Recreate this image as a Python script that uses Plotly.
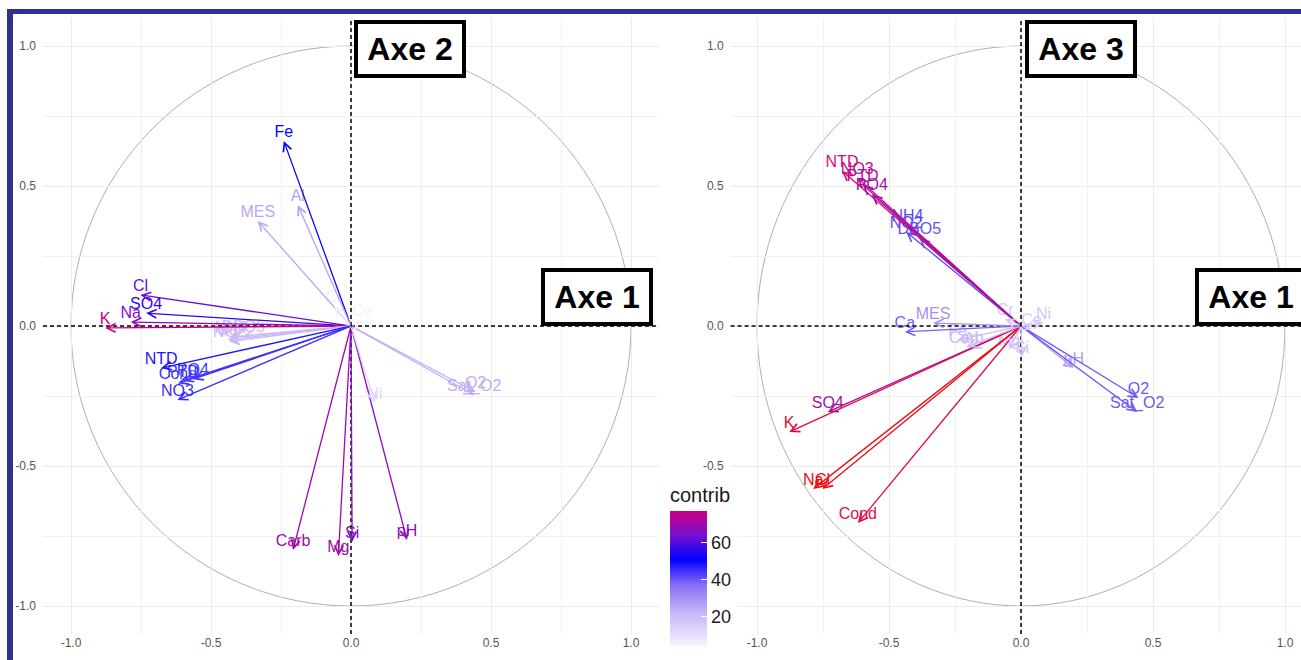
import plotly.graph_objects as go
from plotly.colors import sample_colorscale

# ---------------- data ----------------
variables = ["Fe", "Al", "MES", "Cl", "SO4", "Na", "K", "NH4", "NO2", "DBO5", "Ca",
             "NTD", "PTD", "PO4", "Cond", "NO3", "Carb", "Mg", "Si", "pH", "Ni",
             "Sat_O2", "O2", "Cr", "Ce"]
dim1 = [-0.240, -0.190, -0.333, -0.752, -0.732, -0.787, -0.878, -0.430, -0.435, -0.385, -0.440,
        -0.678, -0.600, -0.565, -0.618, -0.620, -0.207, -0.045, 0.004, 0.200, 0.085,
        0.440, 0.445, -0.060, 0.040]
dim2 = [0.661, 0.432, 0.375, 0.111, 0.046, 0.014, -0.007, -0.040, -0.055, -0.035, -0.048,
        -0.150, -0.196, -0.190, -0.205, -0.264, -0.800, -0.821, -0.771, -0.764, -0.275,
        -0.246, -0.236, 0.070, 0.020]
dim3 = [-0.050, -0.080, 0.011, -0.582, -0.307, -0.582, -0.379, 0.361, 0.336, 0.314, -0.021,
        0.554, 0.505, 0.470, -0.704, 0.530, -0.075, -0.085, -0.110, -0.150, 0.012,
        -0.307, -0.257, 0.025, -0.012]
contrib_12 = [50, 26, 25, 62, 56, 66, 77, 21, 21, 20, 22,
              48, 44, 44, 44, 45, 70, 70, 65, 67, 12,
              24, 24, 6, 5]
contrib_13 = [18, 17, 28, 97, 70, 98, 92, 40, 40, 39, 37,
              80, 72, 70, 88, 75, 18, 16, 16, 25, 14,
              38, 38, 14, 13]

tick_vals = [-1.0, -0.5, 0.0, 0.5, 1.0]
tick_text = ["-1.0", "-0.5", "0.0", "0.5", "1.0"]
minor_vals = [-0.75, -0.25, 0.25, 0.75]
colorbar_ticks = [20, 40, 60]
colorbar_text = ["20", "40", "60"]

# ---------------- styles ----------------
scale_12 = [[0, '#F8F2FF'], [0.25, '#C6B4F7'], [0.45, '#8A6EF5'], [0.64, '#0000FF'],
            [0.82, '#7A10D0'], [1, '#CC0080']]
cmin12, cmax12 = 4, 77
scale_13 = [[0, '#F8F2FF'], [0.2, '#C6B4F7'], [0.35, '#8A6EF5'], [0.5, '#0000FF'],
            [0.65, '#8A10C0'], [0.8, '#D0107A'], [1, '#F00A0A']]
cmin13, cmax13 = 0, 100


def colors(vals, scale, lo, hi):
    fr = [min(max((v - lo) / (hi - lo), 0), 1) for v in vals]
    return sample_colorscale(scale, fr)


col12 = colors(contrib_12, scale_12, cmin12, cmax12)
col13 = colors(contrib_13, scale_13, cmin13, cmax13)

W, H = 1301, 660
LABEL_FONT = "Liberation Sans, Arial, sans-serif"

fig = go.Figure()

# text labels
fig.add_trace(go.Scatter(x=dim1, y=dim2, mode="text", text=variables, textposition="top center",
                         textfont=dict(color=col12, size=16, family=LABEL_FONT),
                         hoverinfo="skip", showlegend=False, xaxis="x", yaxis="y"))
fig.add_trace(go.Scatter(x=dim1, y=dim3, mode="text", text=variables, textposition="top center",
                         textfont=dict(color=col13, size=16, family=LABEL_FONT),
                         hoverinfo="skip", showlegend=False, xaxis="x2", yaxis="y2"))
# colorbar carrier
fig.add_trace(go.Scatter(x=dim1, y=dim2, mode="markers", hoverinfo="skip", showlegend=False,
                         marker=dict(size=1, opacity=0, color=contrib_12, colorscale=scale_12,
                                     cmin=cmin12, cmax=cmax12, showscale=True,
                                     colorbar=dict(title=dict(text="contrib", side="top",
                                                              font=dict(size=20, color="#1a1a1a", family=LABEL_FONT)),
                                                   x=670 / W, xanchor="left", y=1 - 646 / H, yanchor="bottom",
                                                   lenmode="pixels", len=162, thickness=37,
                                                   xpad=0, ypad=0, outlinewidth=0, bgcolor="white",
                                                   tickmode="array", tickvals=colorbar_ticks, ticktext=colorbar_text,
                                                   ticks="inside", ticklen=6, tickcolor="white",
                                                   tickfont=dict(size=18, color="#1a1a1a", family=LABEL_FONT))),
                         xaxis="x", yaxis="y"))

annotations = []
for xs, ys, cols, xr, yr in [(dim1, dim2, col12, "x", "y"), (dim1, dim3, col13, "x2", "y2")]:
    for xv, yv, c in zip(xs, ys, cols):
        annotations.append(dict(x=xv, y=yv, ax=0, ay=0, xref=xr, yref=yr, axref=xr, ayref=yr,
                                showarrow=True, arrowhead=5, arrowsize=1.3, arrowwidth=1.3,
                                arrowcolor=c, text="", standoff=0))

# axis label boxes
boxes = [("Axe 2", 354, 20), ("Axe 1", 541, 268), ("Axe 3", 1025, 20), ("Axe 1", 1195, 268)]
for txt, px, py in boxes:
    annotations.append(dict(text="<b>" + txt + "</b>", xref="paper", yref="paper",
                            x=px / W, y=1 - py / H, xanchor="left", yanchor="top",
                            showarrow=False, width=104, height=50, bgcolor="white",
                            bordercolor="black", borderwidth=4, borderpad=0,
                            font=dict(size=32, color="black", family="Liberation Sans, Arial, sans-serif")))

shapes = []
for xr, yr in [("x", "y"), ("x2", "y2")]:
    shapes.append(dict(type="circle", xref=xr, yref=yr, x0=-1, x1=1, y0=-1, y1=1,
                       line=dict(color="#AFAFAF", width=1), layer="below"))
    shapes.append(dict(type="line", xref=xr, yref=yr + " domain", x0=0, x1=0, y0=0, y1=1,
                       line=dict(color="black", width=1.5, dash="4px,3px"), layer="above"))
    shapes.append(dict(type="line", xref=xr + " domain", yref=yr, x0=0, x1=1, y0=0, y1=0,
                       line=dict(color="black", width=1.5, dash="4px,3px"), layer="above"))

# blue frame
FRAME = "#2E3192"
shapes.append(dict(type="rect", xref="paper", yref="paper", x0=7 / W, x1=1, y0=1 - 14 / H, y1=1 - 9 / H,
                   fillcolor=FRAME, line=dict(width=0), layer="above"))
shapes.append(dict(type="rect", xref="paper", yref="paper", x0=7 / W, x1=13 / W, y0=0, y1=1 - 9 / H,
                   fillcolor=FRAME, line=dict(width=0), layer="above"))

axis_common = dict(tickmode="array", tickvals=tick_vals, ticktext=tick_text, showgrid=True,
                   gridcolor="#EBEBEB", gridwidth=1, zeroline=False, showline=False, ticks="",
                   tickfont=dict(size=12, color="#555555", family=LABEL_FONT), automargin=False,
                   minor=dict(tickmode="array", tickvals=minor_vals, showgrid=True,
                              gridcolor="#F1F1F1", gridwidth=0.8))

ydom = [1 - 634 / H, 1 - 18 / H]
fig.update_layout(
    width=W, height=H, margin=dict(l=0, r=0, t=0, b=0),
    paper_bgcolor="white", plot_bgcolor="white", showlegend=False,
    xaxis=dict(domain=[43 / W, 659 / W], range=[-1.1, 1.1], anchor="y", **axis_common),
    yaxis=dict(domain=ydom, range=[-1.1, 1.1], anchor="x", ticklabelstandoff=6, **axis_common),
    xaxis2=dict(domain=[730.6 / W, 1], range=[-1.1, 1.0606], anchor="y2", **axis_common),
    yaxis2=dict(domain=ydom, range=[-1.1, 1.1], anchor="x2", ticklabelstandoff=6, **axis_common),
    annotations=annotations, shapes=shapes,
)

fig.write_html("out.html", config={"displayModeBar": False},
               post_script="document.body.style.margin='0';document.body.style.overflow='hidden';")
